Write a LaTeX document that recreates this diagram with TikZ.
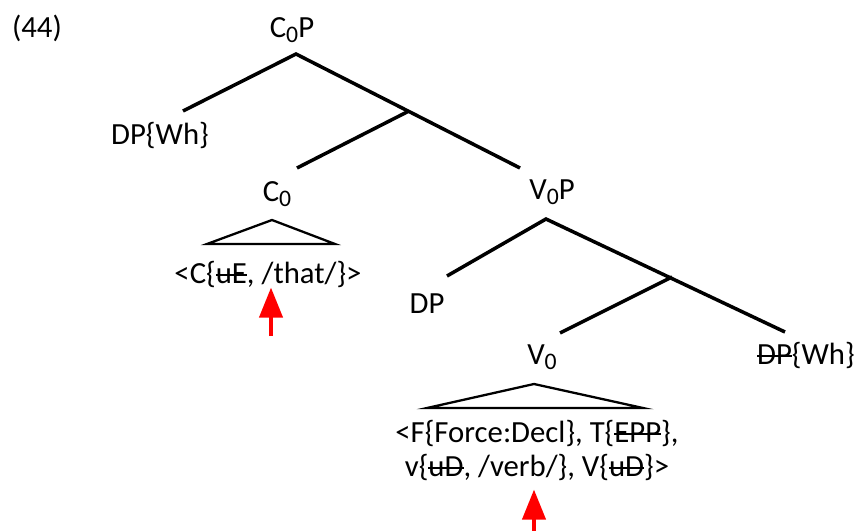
\documentclass[tikz,border=0pt]{standalone}
\usepackage{fontspec}
\setmainfont{Carlito}
\usetikzlibrary{arrows.meta}
\definecolor{RojoFlecha}{RGB}{255,0,0}
\newsavebox{\cajatachado}
\newcommand{\subcero}{\raisebox{-3pt}{\fontsize{13.5}{13}\selectfont 0}}
\newcommand{\tachado}[1]{\sbox{\cajatachado}{#1}\rlap{\raisebox{0.22em}{\rule{\wd\cajatachado}{1.1pt}}}\usebox{\cajatachado}}

\begin{document}
\begin{tikzpicture}[x=0.02cm,y=-0.02cm,
    font=\fontsize{17.5}{19.3}\selectfont,
    etiqueta/.style={inner sep=0pt,anchor=base},
    rama/.style={line width=2pt},
    techo/.style={line width=1.3pt,line join=miter},
    flecha/.style={-{Triangle[length=0.6cm,width=0.46cm]},line width=2.3pt,RojoFlecha}]
  \useasboundingbox (0,0) rectangle (860,531);
  % etiquetas
  \node[etiqueta] (num) at (37,37) {(44)};
  \node[etiqueta] (cop) at (292,37) {C\subcero P};
  \node[etiqueta] (dpwh) at (160,144) {DP\{Wh\}};
  \node[etiqueta] (c0) at (277,201) {C\subcero};
  \node[etiqueta] (vop) at (552,199) {V\subcero P};
  \node[etiqueta] (dp) at (427,313) {DP};
  \node[etiqueta] (v0) at (542,364) {V\subcero};
  \node[etiqueta] (dpbaja) at (806,364) {\tachado{DP}\{Wh\}};
  \node[etiqueta] (cthat) at (268,283) {<C\{\tachado{uE}, /that/\}>};
  \node[etiqueta,align=center] (vhaz) at (537,476)
    {<F\{Force:Decl\}, T\{\tachado{EPP}\},\\ v\{\tachado{uD}, /verb/\}, V\{\tachado{uD}\}>};
  % puntos de las ramas
  \coordinate (cop-a) at (296,54);
  \coordinate (cop-i) at (183,111);
  \coordinate (cop-d) at (520,168);
  \coordinate (cbar) at (409,111);
  \coordinate (cbar-i) at (297,168);
  \coordinate (vop-a) at (546,219);
  \coordinate (vop-i) at (447,276);
  \coordinate (vop-d) at (785,332);
  \coordinate (vbar) at (672,277);
  \coordinate (vbar-i) at (560,333);
  % ramas
  \draw[rama] (cop-i) -- (cop-a) -- (cop-d);
  \draw[rama] (cbar) -- (cbar-i);
  \draw[rama] (vop-i) -- (vop-a) -- (vop-d);
  \draw[rama] (vbar) -- (vbar-i);
  % techos
  \draw[techo] (272,220) -- (207,244) -- (335,244) -- cycle;
  \draw[techo] (534,384) -- (427,408) -- (643,408) -- cycle;
  % flechas
  \coordinate (flecha1) at (271,336);
  \coordinate (flecha2) at (534,535);
  \draw[flecha] (flecha1) -- (flecha1 |- cthat.south);
  \draw[flecha,shorten >=0.18cm] (flecha2) -- (flecha2 |- vhaz.south);
\end{tikzpicture}
\end{document}
